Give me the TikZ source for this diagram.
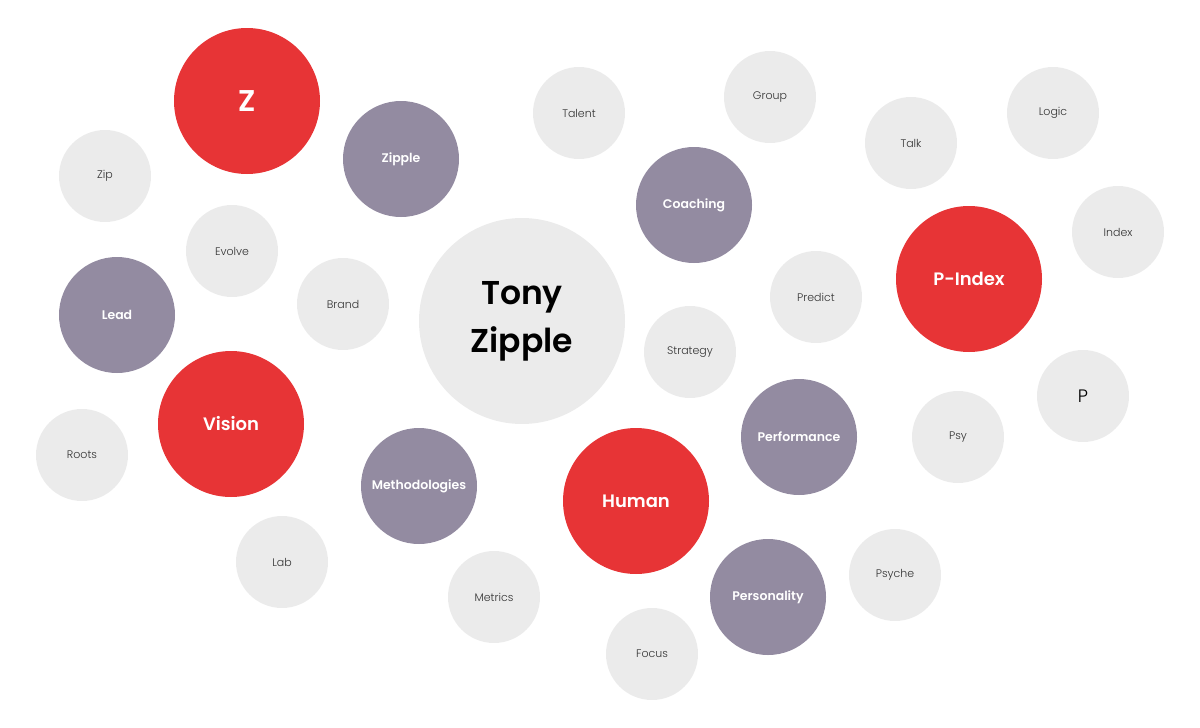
\documentclass[tikz,border=0pt]{standalone}
\usepackage{fontspec}
\setmainfont{Poppins}[UprightFont={* Light}, BoldFont={* SemiBold}]
\definecolor{bubred}{HTML}{E73436}
\definecolor{bubpurple}{HTML}{938BA1}
\definecolor{bubgrey}{HTML}{EBEBEB}
\definecolor{bubtext}{HTML}{333333}
\begin{document}
\begin{tikzpicture}[x=1pt, y=-1pt,
    bubble/.style={circle, inner sep=0pt, align=center},
    redbub/.style={bubble, fill=bubred, minimum size=146pt, text=white, font=\bfseries\fontsize{18}{22}\selectfont},
    purplebub/.style={bubble, fill=bubpurple, minimum size=116pt, text=white, font=\bfseries\fontsize{12.5}{15}\selectfont},
    greybub/.style={bubble, fill=bubgrey, minimum size=92pt, text=bubtext, font=\fontsize{11}{13}\selectfont}]
    \useasboundingbox (0,0) rectangle (1200,728);

    % red ones
    \node[redbub, font=\bfseries\fontsize{30}{34}\selectfont] (z) at (247,101) {Z};
    \node[redbub] (vision) at (231,424) {Vision};
    \node[redbub] (human) at (636,501) {Human};
    \node[redbub] (pindex) at (969,279) {P-Index};

    % purple ones
    \node[purplebub] (zipple) at (401,159) {Zipple};
    \node[purplebub] (lead) at (117,315) {Lead};
    \node[purplebub] (methods) at (419,486) {Methodologies};
    \node[purplebub] (coaching) at (694,205) {Coaching};
    \node[purplebub] (perf) at (799,437) {Performance};
    \node[purplebub] (persona) at (768,597) {Personality};

    % centre
    \node[bubble, fill=bubgrey, minimum size=206pt, text=black,
          font=\bfseries\fontsize{33}{48}\selectfont] (tony) at (522,321) {Tony\\Zipple};

    % grey ones
    \node[greybub] (zip) at (105,176) {Zip};
    \node[greybub] (evolve) at (232,251) {Evolve};
    \node[greybub] (brand) at (343,304) {Brand};
    \node[greybub] (roots) at (82,455) {Roots};
    \node[greybub] (lab) at (282,562) {Lab};
    \node[greybub] (metrics) at (494,597) {Metrics};
    \node[greybub] (focus) at (652,654) {Focus};
    \node[greybub] (psyche) at (895,575) {Psyche};
    \node[greybub] (strategy) at (690,352) {Strategy};
    \node[greybub] (predict) at (816,297) {Predict};
    \node[greybub] (talent) at (579,113) {Talent};
    \node[greybub] (group) at (770,97) {Group};
    \node[greybub] (talk) at (911,143) {Talk};
    \node[greybub] (logic) at (1053,113) {Logic};
    \node[greybub] (index) at (1118,232) {Index};
    \node[greybub] (psy) at (958,437) {Psy};
    \node[greybub, text=black, font=\fontsize{18}{20}\selectfont] (p) at (1083,396) {P};
\end{tikzpicture}
\end{document}
